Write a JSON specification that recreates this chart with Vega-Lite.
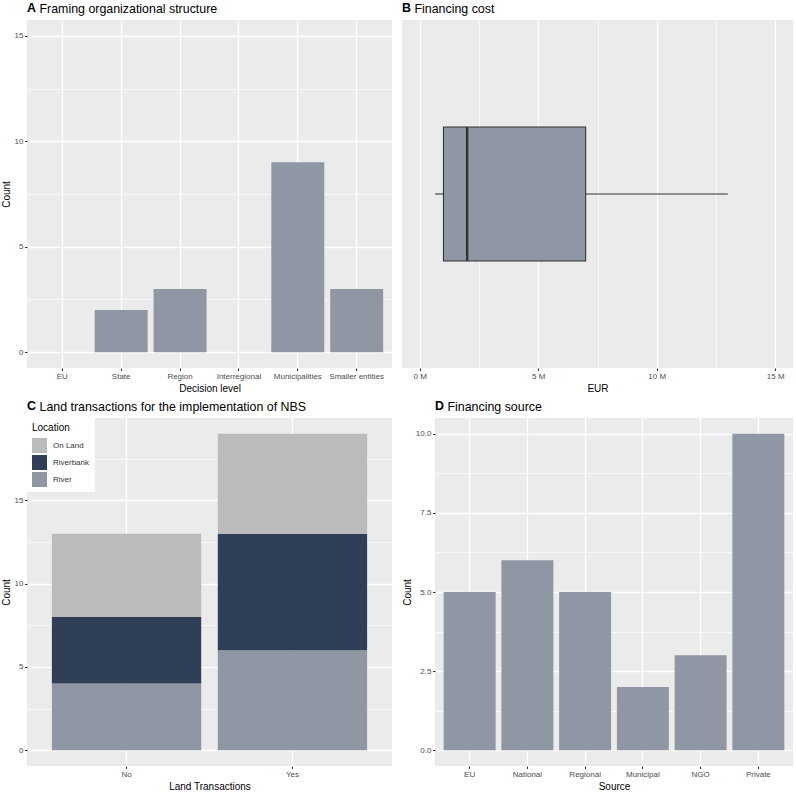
{
  "$schema": "https://vega.github.io/schema/vega-lite/v6.json",
  "background": "white",
  "padding": {"left": 1, "top": 1, "right": 0, "bottom": 0},
  "columns": 2,
  "align": "none",
  "spacing": {"row": 5, "column": 10},
  "resolve": {"legend": {"color": "independent"}, "scale": {"color": "independent"}},
  "datasets": {
    "decision": [
      {"level": "EU", "count": 0},
      {"level": "State", "count": 2},
      {"level": "Region", "count": 3},
      {"level": "Interregional", "count": 0},
      {"level": "Municipalities", "count": 9},
      {"level": "Smaller entities", "count": 3}
    ],
    "cost": [
      {"low": 650000, "q1": 1000000, "median": 2000000, "q3": 7000000, "high": 13000000}
    ],
    "land": [
      {"transactions": "No", "location": "River", "count": 4},
      {"transactions": "No", "location": "Riverbank", "count": 4},
      {"transactions": "No", "location": "On Land", "count": 5},
      {"transactions": "Yes", "location": "River", "count": 6},
      {"transactions": "Yes", "location": "Riverbank", "count": 7},
      {"transactions": "Yes", "location": "On Land", "count": 6}
    ],
    "source": [
      {"source": "EU", "count": 5},
      {"source": "National", "count": 6},
      {"source": "Regional", "count": 5},
      {"source": "Municipal", "count": 2},
      {"source": "NGO", "count": 3},
      {"source": "Private", "count": 10}
    ]
  },
  "concat": [
    {
      "width": 365,
      "height": 348,
      "title": {"text": "A"},
      "data": {"name": "decision"},
      "layer": [
        {
          "mark": {"type": "bar", "color": "#8E97A3"},
          "encoding": {
            "x": {
              "field": "level", "type": "nominal", "sort": null,
              "scale": {"paddingInner": 0.1, "paddingOuter": 0.15},
              "axis": {"orient": "bottom", "title": "Decision level", "labelAngle": 0, "grid": true, "bandPosition": 0.5}
            },
            "y": {
              "field": "count", "type": "quantitative",
              "scale": {"domain": [-0.75, 15.75], "nice": false, "zero": false},
              "axis": {
                "title": "Count",
                "values": [0, 2.5, 5, 7.5, 10, 12.5, 15],
                "labelExpr": "datum.value % 5 === 0 ? datum.label : ''",
                "gridWidth": {"condition": {"test": "datum.value % 5 === 0", "value": 1.3}, "value": 0.65},
                "tickOpacity": {"condition": {"test": "datum.value % 5 === 0", "value": 1}, "value": 0}
              }
            }
          }
        },
        {
          "mark": {"type": "bar", "opacity": 0},
          "encoding": {
            "x": {
              "field": "level", "type": "nominal", "sort": null,
              "axis": {"orient": "top", "title": "Framing organizational structure", "labels": false, "ticks": false, "grid": false, "domain": false,
                "titleX": 12, "titleY": -7.7, "titleAlign": "left", "titleBaseline": "alphabetic", "titleFontSize": 12.4, "titleFontWeight": "normal"}
            }
          }
        }
      ]
    },
    {
      "width": 391,
      "height": 348,
      "title": {"text": "B"},
      "data": {"name": "cost"},
      "layer": [
        {
          "mark": {"type": "rule", "color": "#333333", "strokeWidth": 1.1},
          "encoding": {
            "x": {
              "field": "low", "type": "quantitative",
              "scale": {"domain": [-750000, 15750000], "nice": false, "zero": false},
              "axis": {
                "orient": "bottom", "title": "EUR",
                "values": [0, 2500000, 5000000, 7500000, 10000000, 12500000, 15000000],
                "labelExpr": "datum.value % 5000000 === 0 ? (datum.value / 1000000) + ' M' : ''",
                "gridWidth": {"condition": {"test": "datum.value % 5000000 === 0", "value": 1.3}, "value": 0.65},
                "tickOpacity": {"condition": {"test": "datum.value % 5000000 === 0", "value": 1}, "value": 0}
              }
            },
            "x2": {"field": "q1"},
            "y": {"datum": 0.5, "type": "quantitative", "scale": {"domain": [0, 1], "nice": false, "zero": false}, "axis": null}
          }
        },
        {
          "mark": {"type": "rule", "color": "#333333", "strokeWidth": 1.1},
          "encoding": {
            "x": {"field": "q3", "type": "quantitative", "axis": null},
            "x2": {"field": "high"},
            "y": {"datum": 0.5, "type": "quantitative", "axis": null}
          }
        },
        {
          "mark": {"type": "rect", "fill": "#8E97A3", "stroke": "#333333", "strokeWidth": 1.1},
          "encoding": {
            "x": {"field": "q1", "type": "quantitative", "axis": null},
            "x2": {"field": "q3"},
            "y": {"datum": 0.3075, "type": "quantitative", "axis": null},
            "y2": {"datum": 0.6925}
          }
        },
        {
          "mark": {"type": "rule", "color": "#333333", "strokeWidth": 2.4},
          "encoding": {
            "x": {
              "field": "median", "type": "quantitative",
              "axis": {"orient": "top", "title": "Financing cost", "labels": false, "ticks": false, "grid": false, "domain": false,
                "titleX": 12, "titleY": -7.7, "titleAlign": "left", "titleBaseline": "alphabetic", "titleFontSize": 12.4, "titleFontWeight": "normal"}
            },
            "y": {"datum": 0.3075, "type": "quantitative", "axis": null},
            "y2": {"datum": 0.6925}
          }
        }
      ]
    },
    {
      "width": 365,
      "height": 348,
      "title": {"text": "C"},
      "data": {"name": "land"},
      "layer": [
        {
          "mark": {"type": "bar"},
          "encoding": {
            "x": {
              "field": "transactions", "type": "nominal", "sort": ["No", "Yes"],
              "scale": {"paddingInner": 0.1, "paddingOuter": 0.15},
              "axis": {"orient": "bottom", "title": "Land Transactions", "labelAngle": 0, "grid": true, "bandPosition": 0.5}
            },
            "y": {
              "field": "count", "type": "quantitative",
              "scale": {"domain": [-0.95, 19.95], "nice": false, "zero": false},
              "axis": {
                "title": "Count",
                "values": [0, 2.5, 5, 7.5, 10, 12.5, 15, 17.5],
                "labelExpr": "datum.value % 5 === 0 ? datum.label : ''",
                "gridWidth": {"condition": {"test": "datum.value % 5 === 0", "value": 1.3}, "value": 0.65},
                "tickOpacity": {"condition": {"test": "datum.value % 5 === 0", "value": 1}, "value": 0}
              }
            },
            "color": {
              "field": "location", "type": "nominal",
              "sort": ["River", "Riverbank", "On Land"],
              "scale": {"range": ["#8E97A3", "#2E3F57", "#BBBBBB"]},
              "legend": {"title": "Location", "values": ["On Land", "Riverbank", "River"]}
            },
            "order": {"field": "transactions"}
          }
        },
        {
          "mark": {"type": "bar", "opacity": 0},
          "encoding": {
            "x": {
              "field": "transactions", "type": "nominal", "sort": ["No", "Yes"],
              "axis": {"orient": "top", "title": "Land transactions for the implementation of NBS", "labels": false, "ticks": false, "grid": false, "domain": false,
                "titleX": 12, "titleY": -7.7, "titleAlign": "left", "titleBaseline": "alphabetic", "titleFontSize": 12.4, "titleFontWeight": "normal"}
            }
          }
        }
      ]
    },
    {
      "width": 358,
      "height": 348,
      "title": {"text": "D"},
      "data": {"name": "source"},
      "layer": [
        {
          "mark": {"type": "bar", "color": "#8E97A3"},
          "encoding": {
            "x": {
              "field": "source", "type": "nominal", "sort": null,
              "scale": {"paddingInner": 0.1, "paddingOuter": 0.15},
              "axis": {"orient": "bottom", "title": "Source", "labelAngle": 0, "grid": true, "bandPosition": 0.5}
            },
            "y": {
              "field": "count", "type": "quantitative",
              "scale": {"domain": [-0.5, 10.5], "nice": false, "zero": false},
              "axis": {
                "title": "Count",
                "values": [0, 1.25, 2.5, 3.75, 5, 6.25, 7.5, 8.75, 10],
                "labelExpr": "datum.value % 2.5 === 0 ? format(datum.value, '.1f') : ''",
                "gridWidth": {"condition": {"test": "datum.value % 2.5 === 0", "value": 1.3}, "value": 0.65},
                "tickOpacity": {"condition": {"test": "datum.value % 2.5 === 0", "value": 1}, "value": 0}
              }
            }
          }
        },
        {
          "mark": {"type": "bar", "opacity": 0},
          "encoding": {
            "x": {
              "field": "source", "type": "nominal", "sort": null,
              "axis": {"orient": "top", "title": "Financing source", "labels": false, "ticks": false, "grid": false, "domain": false,
                "titleX": 12, "titleY": -7.7, "titleAlign": "left", "titleBaseline": "alphabetic", "titleFontSize": 12.4, "titleFontWeight": "normal"}
            }
          }
        }
      ]
    }
  ],
  "config": {
    "font": "Liberation Sans",
    "view": {"fill": "#EBEBEB", "stroke": null},
    "axis": {
      "domain": false,
      "tickColor": "#333333",
      "tickWidth": 1.1,
      "tickSize": 2.5,
      "labelColor": "#4D4D4D",
      "labelFontSize": 8,
      "labelPadding": 1.6,
      "titleColor": "#000000",
      "titleFontSize": 10,
      "titleFontWeight": "normal",
      "titlePadding": 3,
      "gridColor": "#FFFFFF",
      "gridWidth": 1.3,
      "gridOpacity": 1
    },
    "title": {
      "fontSize": 12.4,
      "fontWeight": "bold",
      "anchor": "start",
      "frame": "group",
      "color": "#000000",
      "offset": -12
    },
    "legend": {
      "orient": "top-left",
      "offset": 0,
      "fillColor": "#FFFFFF",
      "padding": 5,
      "titleFontSize": 10,
      "titleFontWeight": "normal",
      "titleColor": "#000000",
      "titlePadding": 5,
      "labelFontSize": 8,
      "labelColor": "#333333",
      "labelOffset": 6,
      "symbolType": "square",
      "symbolSize": 225,
      "symbolStrokeWidth": 0,
      "symbolOpacity": 1,
      "rowPadding": 2
    }
  }
}
